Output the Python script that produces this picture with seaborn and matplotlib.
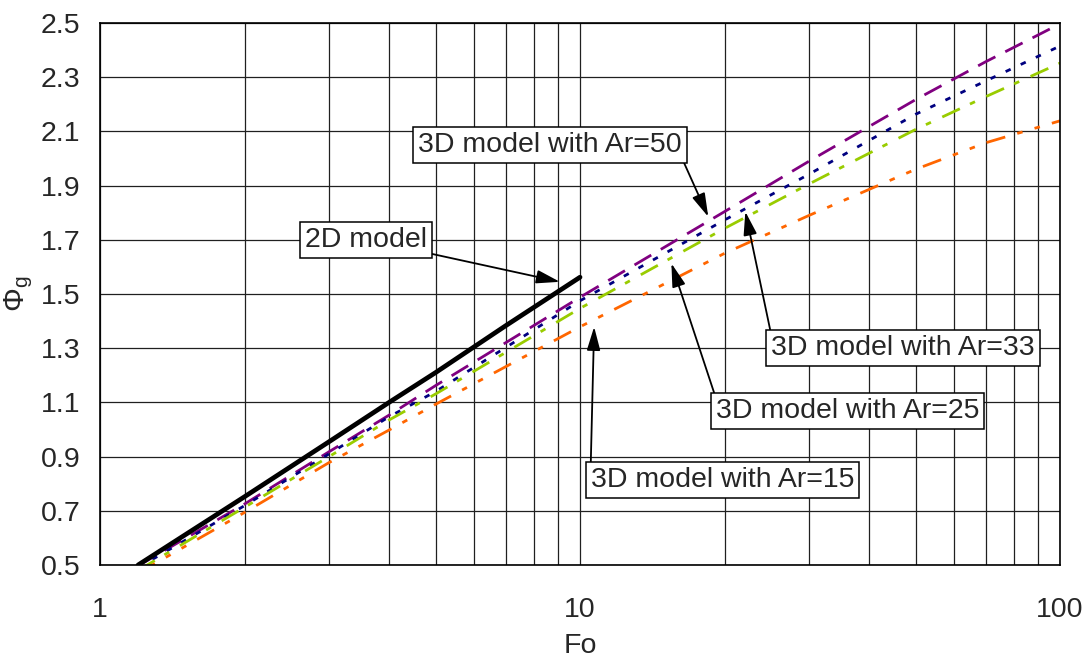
import numpy as np
import pandas as pd
import matplotlib
matplotlib.use('Agg')
import matplotlib.pyplot as plt
import seaborn as sns
from matplotlib.ticker import FixedLocator, NullFormatter

# values
fo_2d = [1.2, 2, 3, 4, 5, 7, 10]
phi_2d = [0.50, 0.752, 0.955, 1.10, 1.21, 1.383, 1.562]

fo_3d = [1.2, 2, 3, 4, 5, 10, 20, 30, 50, 70, 100]
phi_ar50 = [0.497, 0.725, 0.918, 1.053, 1.162, 1.488, 1.804, 1.99, 2.217, 2.357, 2.497]
phi_ar33 = [0.49, 0.719, 0.91, 1.047, 1.14, 1.475, 1.773, 1.942, 2.163, 2.286, 2.415]
phi_ar25 = [0.48, 0.713, 0.90, 1.035, 1.131, 1.447, 1.742, 1.906, 2.107, 2.228, 2.352]
phi_ar15 = [0.47, 0.694, 0.878, 0.998, 1.093, 1.379, 1.65, 1.79, 1.96, 2.058, 2.139]

y_ticks = [0.5, 0.7, 0.9, 1.1, 1.3, 1.5, 1.7, 1.9, 2.1, 2.3, 2.5]
x_ticks = [1, 10, 100]

sns.set_style('white')
plt.rcParams['font.family'] = ['Liberation Sans', 'DejaVu Sans']
plt.rcParams['mathtext.fontset'] = 'custom'
plt.rcParams['mathtext.rm'] = 'Liberation Sans'
plt.rcParams['mathtext.it'] = 'Liberation Sans'

fs = 20.5

fig = plt.figure(figsize=(10.91, 6.59), dpi=100)
ax = fig.add_axes([0.0917, 0.1426, 0.8799, 0.8225])

# 3D series: (values, colour, dash pattern)
series = [
    (phi_ar50, '#800080', (0, (7, 4))),
    (phi_ar33, '#000080', (0, (2, 4))),
    (phi_ar25, '#99CC00', (0, (7, 4, 2, 4.5))),
    (phi_ar15, '#FF6600', (0, (7, 4.5, 2, 4.5, 2, 4.5))),
]
for vals, col, ls in series:
    df = pd.DataFrame({'Fo': fo_3d, 'phi': vals})
    sns.lineplot(data=df, x='Fo', y='phi', color=col, lw=2.0, linestyle=ls, ax=ax)

df2 = pd.DataFrame({'Fo': fo_2d, 'phi': phi_2d})
sns.lineplot(data=df2, x='Fo', y='phi', color='black', lw=3.4, ax=ax)

ax.set_xscale('log')
ax.set_xlim(1, 100)
ax.set_ylim(0.5, 2.5)
ax.set_yticks(y_ticks)
ax.set_yticklabels([f'{v:.1f}' for v in y_ticks])
ax.xaxis.set_major_locator(FixedLocator(x_ticks))
ax.set_xticklabels([str(v) for v in x_ticks])
minor = [m * d for d in (1, 10) for m in range(2, 10)]
ax.xaxis.set_minor_locator(FixedLocator(minor))
ax.xaxis.set_minor_formatter(NullFormatter())

ax.grid(True, which='major', color='#202020', lw=0.9)
ax.grid(True, which='minor', axis='x', color='#202020', lw=0.9)
ax.set_axisbelow(True)
for s in ax.spines.values():
    s.set_color('black')
    s.set_linewidth(1.2)

ax.tick_params(axis='both', which='major', direction='out', length=8, width=1,
               color='#555555', labelsize=fs, pad=6)
ax.tick_params(axis='x', which='minor', length=0)
ax.tick_params(axis='x', which='major', pad=15)

ax.set_xlabel('Fo', fontsize=fs)
ax.set_ylabel(r'$\Phi_{\rm g}$', fontsize=fs + 1)
ax.yaxis.set_label_coords(-0.068, 0.5)
ax.xaxis.set_label_coords(0.5, -0.125)

box = dict(boxstyle='square,pad=0.17', fc='white', ec='black', lw=1.1)
arrow = dict(arrowstyle='-|>,head_length=0.7,head_width=0.2', color='black',
             lw=1.3, shrinkA=0, shrinkB=0)

notes = [
    ('2D model', (9.08, 1.545), (3.58, 1.70), (1, 0)),
    ('3D model with Ar=50', (18.5, 1.785), (8.66, 2.05), (1, 0)),
    ('3D model with Ar=33', (22.1, 1.804), (47.1, 1.301), (0, 1)),
    ('3D model with Ar=25', (15.5, 1.613), (36.1, 1.068), (0, 1)),
    ('3D model with Ar=15', (10.7, 1.379), (19.8, 0.814), (0, 1)),
]
for txt, tip, pos, rp in notes:
    ax.annotate(txt, xy=tip, xytext=pos, ha='center', va='center', fontsize=fs,
                bbox=box, arrowprops=dict(arrow, relpos=rp), zorder=5)

fig.savefig('out.png', dpi=100)
